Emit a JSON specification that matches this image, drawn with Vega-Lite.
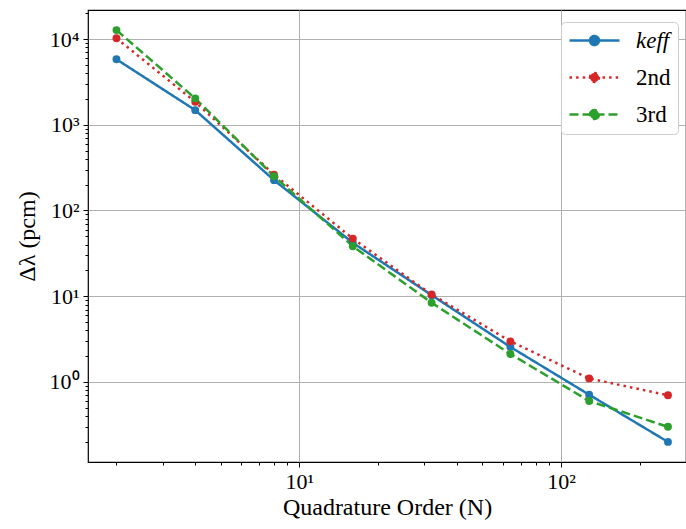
{
  "$schema": "https://vega.github.io/schema/vega-lite/v6.json",
  "width": 598,
  "height": 452,
  "autosize": {"type": "none"},
  "padding": {"left": 88, "top": 10, "right": 0, "bottom": 67},
  "background": "white",
  "config": {
    "view": {"stroke": "black", "strokeWidth": 1.2},
    "font": "Liberation Serif",
    "axis": {
      "domain": false,
      "labelFont": "Liberation Serif",
      "labelFontSize": 22,
      "labelColor": "black",
      "titleFont": "Liberation Serif",
      "titleFontSize": 24,
      "titleFontWeight": "normal",
      "titleColor": "black",
      "tickColor": "black",
      "tickWidth": 1,
      "gridColor": "#b0b0b0",
      "gridWidth": 1
    }
  },
  "data": {
    "values": [
      {"series": "keff", "N": 2, "value": 5800},
      {"series": "keff", "N": 4, "value": 1480},
      {"series": "keff", "N": 8, "value": 226},
      {"series": "keff", "N": 16, "value": 42},
      {"series": "keff", "N": 32, "value": 10.3},
      {"series": "keff", "N": 64, "value": 2.56},
      {"series": "keff", "N": 128, "value": 0.71},
      {"series": "keff", "N": 256, "value": 0.2},
      {"series": "2nd", "N": 2, "value": 10200},
      {"series": "2nd", "N": 4, "value": 1850},
      {"series": "2nd", "N": 8, "value": 262},
      {"series": "2nd", "N": 16, "value": 47},
      {"series": "2nd", "N": 32, "value": 10.5},
      {"series": "2nd", "N": 64, "value": 2.98},
      {"series": "2nd", "N": 128, "value": 1.1},
      {"series": "2nd", "N": 256, "value": 0.7},
      {"series": "3rd", "N": 2, "value": 12700},
      {"series": "3rd", "N": 4, "value": 2030},
      {"series": "3rd", "N": 8, "value": 251},
      {"series": "3rd", "N": 16, "value": 38.3},
      {"series": "3rd", "N": 32, "value": 8.4},
      {"series": "3rd", "N": 64, "value": 2.12},
      {"series": "3rd", "N": 128, "value": 0.6},
      {"series": "3rd", "N": 256, "value": 0.3}
    ]
  },
  "encoding": {
    "x": {
      "field": "N",
      "type": "quantitative",
      "scale": {"type": "log", "domain": [1.557, 300], "nice": false},
      "axis": {
        "title": "Quadrature Order (N)",
        "values": [2, 3, 4, 5, 6, 7, 8, 9, 10, 20, 30, 40, 50, 60, 70, 80, 90, 100, 200],
        "labelExpr": "abs(log(datum.value)/LN10 - round(log(datum.value)/LN10)) < 0.001 ? '10' + ['⁰','¹','²','³','⁴'][round(log(datum.value)/LN10)] : ''",
        "tickSize": {"condition": {"test": "abs(log(datum.value)/LN10 - round(log(datum.value)/LN10)) < 0.001", "value": 5}, "value": 3},
        "gridOpacity": {"condition": {"test": "abs(log(datum.value)/LN10 - round(log(datum.value)/LN10)) < 0.001", "value": 1}, "value": 0},
        "labelPadding": 4,
        "titlePadding": 3,
        "labelFlush": false,
        "labelOverlap": false
      }
    },
    "y": {
      "field": "value",
      "type": "quantitative",
      "scale": {"type": "log", "domain": [0.1166, 21800], "nice": false},
      "axis": {
        "title": "Δλ (pcm)",
        "values": [0.2, 0.3, 0.4, 0.5, 0.6, 0.7, 0.8, 0.9, 1, 2, 3, 4, 5, 6, 7, 8, 9, 10, 20, 30, 40, 50, 60, 70, 80, 90, 100, 200, 300, 400, 500, 600, 700, 800, 900, 1000, 2000, 3000, 4000, 5000, 6000, 7000, 8000, 9000, 10000, 20000],
        "labelExpr": "abs(log(datum.value)/LN10 - round(log(datum.value)/LN10)) < 0.001 ? '10' + ['⁰','¹','²','³','⁴'][round(log(datum.value)/LN10)] : ''",
        "tickSize": {"condition": {"test": "abs(log(datum.value)/LN10 - round(log(datum.value)/LN10)) < 0.001", "value": 5}, "value": 3},
        "gridOpacity": {"condition": {"test": "abs(log(datum.value)/LN10 - round(log(datum.value)/LN10)) < 0.001", "value": 1}, "value": 0},
        "labelPadding": 4,
        "titlePadding": 10,
        "labelFlush": false,
        "labelOverlap": false
      }
    },
    "color": {
      "field": "series",
      "type": "nominal",
      "scale": {"domain": ["keff", "2nd", "3rd"], "range": ["#1f77b4", "#d62728", "#2ca02c"]},
      "legend": {
        "title": null,
        "orient": "none",
        "legendX": 473,
        "legendY": 12,
        "symbolType": "M-1,0L4,0M1.05,0A0.45,0.45,0,1,1,1.95,0A0.45,0.45,0,1,1,1.05,0Z",
        "symbolSize": 400,
        "symbolStrokeWidth": 2.5,
        "labelFont": "Liberation Serif",
        "labelFontSize": 23,
        "labelColor": "black",
        "labelOffset": 45,
        "rowPadding": 13,
        "padding": 7,
        "fillColor": "white",
        "strokeColor": "#cccccc",
        "cornerRadius": 4,
        "encode": {
          "labels": {"update": {"fontStyle": {"signal": "datum.value === 'keff' ? 'italic' : 'normal'"}}},
          "symbols": {"update": {"fill": {"signal": "scale('color', datum.value)"}, "opacity": {"value": 1}}}
        }
      }
    },
    "strokeDash": {
      "field": "series",
      "type": "nominal",
      "scale": {"domain": ["keff", "2nd", "3rd"], "range": [[1, 0], [2.5, 4.1], [9, 4]]},
      "legend": null
    }
  },
  "layer": [
    {"mark": {"type": "line", "strokeWidth": 2.5, "clip": true}},
    {"mark": {"type": "circle", "size": 62, "opacity": 1, "clip": true}}
  ]
}
